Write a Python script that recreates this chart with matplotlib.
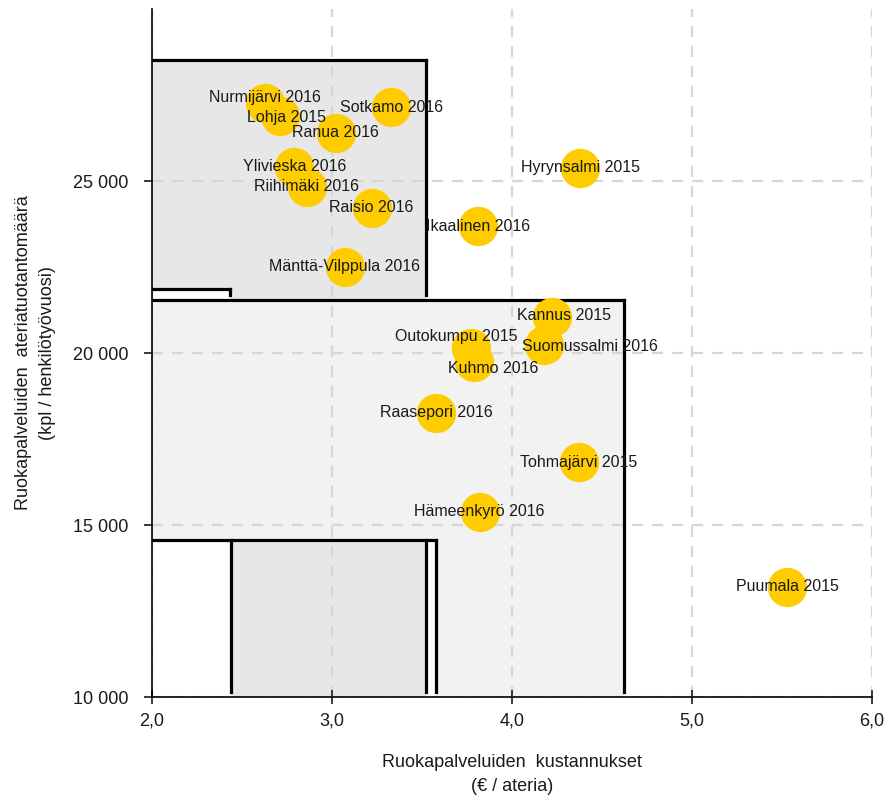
import matplotlib.pyplot as plt
from matplotlib.ticker import FuncFormatter

plt.rcParams['font.family'] = ['Liberation Sans', 'DejaVu Sans']

# municipality points: cost (EUR / meal) vs meals per person-year
names = ["Nurmijärvi 2016", "Lohja 2015", "Ranua 2016", "Sotkamo 2016",
         "Ylivieska 2016", "Riihimäki 2016", "Raisio 2016", "Mänttä-Vilppula 2016",
         "Hyrynsalmi 2015", "Ikaalinen 2016", "Kannus 2015", "Suomussalmi 2016",
         "Outokumpu 2015", "Kuhmo 2016", "Raasepori 2016", "Tohmajärvi 2015",
         "Hämeenkyrö 2016", "Puumala 2015"]
cost = [2.63, 2.71, 3.02, 3.33, 2.79, 2.86, 3.22, 3.07,
        4.38, 3.81, 4.22, 4.18, 3.77, 3.79, 3.58, 4.37, 3.82, 5.53]
meals = [27270, 26890, 26400, 27150, 25410, 24830, 24220, 22500,
         25380, 23690, 21050, 20230, 20150, 19740, 18260, 16830, 15380, 13200]

# background zones (x0, x1, y0, y1)
zone_top = (2.0, 3.52, 21540, 28520)
zone_mid = (2.0, 4.62, 10000, 21540)
zone_notch = (2.0, 2.435, 21540, 21860)
zone_low = (2.0, 3.58, 10000, 14560)
zone_low_inner = (2.44, 3.52, 10000, 14560)

# label nudges in points for crowded points
label_shift = {"Nurmijärvi 2016": (0, 4), "Lohja 2015": (5, -1),
               "Kannus 2015": (9, 1), "Suomussalmi 2016": (33, -1),
               "Outokumpu 2015": (-10, 8), "Kuhmo 2016": (14, -5)}

fig = plt.figure(figsize=(8.86, 8.0), dpi=100)
ax = fig.add_axes([152 / 886, 103 / 800, 720 / 886, 688 / 800])
ax.set_xlim(2.0, 6.0)
ax.set_ylim(10000, 30000)


def zone(z, color, edges):
    x0, x1, y0, y1 = z
    ax.fill_between([x0, x1], y0, y1, color=color, lw=0, zorder=1)
    for e in edges:
        if e == "top":
            ax.plot([x0, x1], [y1, y1], color="black", lw=2.3, solid_capstyle="projecting", zorder=2)
        elif e == "right":
            ax.plot([x1, x1], [y0 + 150, y1], color="black", lw=2.3, solid_capstyle="projecting", zorder=2)
        elif e == "left":
            ax.plot([x0, x0], [y0 + 150, y1], color="black", lw=2.3, solid_capstyle="projecting", zorder=2)


zone(zone_top, "#e7e7e7", ["top", "right"])
zone(zone_notch, "white", ["top", "right"])
zone(zone_mid, "#f2f2f2", ["top", "right"])
zone(zone_low, "white", ["top", "right"])
zone(zone_low_inner, "#e7e7e7", ["left", "right"])

ax.set_xticks([2, 3, 4, 5, 6])
ax.set_yticks([10000, 15000, 20000, 25000])
ax.xaxis.set_major_formatter(FuncFormatter(lambda v, p: f"{v:.1f}".replace(".", ",")))
ax.yaxis.set_major_formatter(FuncFormatter(lambda v, p: f"{int(v):,}".replace(",", " ")))
ax.grid(True, color="#d6d6d6", lw=1.6, ls=(0, (5, 4)))
for gl in ax.get_xgridlines() + ax.get_ygridlines():
    gl.set_zorder(2.5)

ax.scatter(cost, meals, s=800, color="#FFCC00", lw=0, zorder=3)
for n, x, y in zip(names, cost, meals):
    dx, dy = label_shift.get(n, (0, 0))
    ax.annotate(n, (x, y), xytext=(dx, dy), textcoords="offset points",
                ha="center", va="center", fontsize=11.5, color="#1a1a1a", zorder=4)

for s in ["top", "right"]:
    ax.spines[s].set_visible(False)
for s in ["left", "bottom"]:
    ax.spines[s].set_linewidth(1.2)
    ax.spines[s].set_zorder(5)

ax.tick_params(axis="x", direction="inout", length=10, width=1.2, pad=6, labelsize=13, colors="#1a1a1a")
ax.tick_params(axis="y", direction="out", length=6, width=1.2, pad=11, labelsize=13, colors="#1a1a1a")

ax.set_xlabel("Ruokapalveluiden  kustannukset\n(€ / ateria)", fontsize=13, color="#1a1a1a",
              labelpad=18, linespacing=1.55)
ax.set_ylabel("Ruokapalveluiden  ateriatuotantomäärä\n(kpl / henkilötyövuosi)", fontsize=13,
              color="#1a1a1a", labelpad=12, linespacing=1.55)

fig.savefig("out.png", dpi=100)
